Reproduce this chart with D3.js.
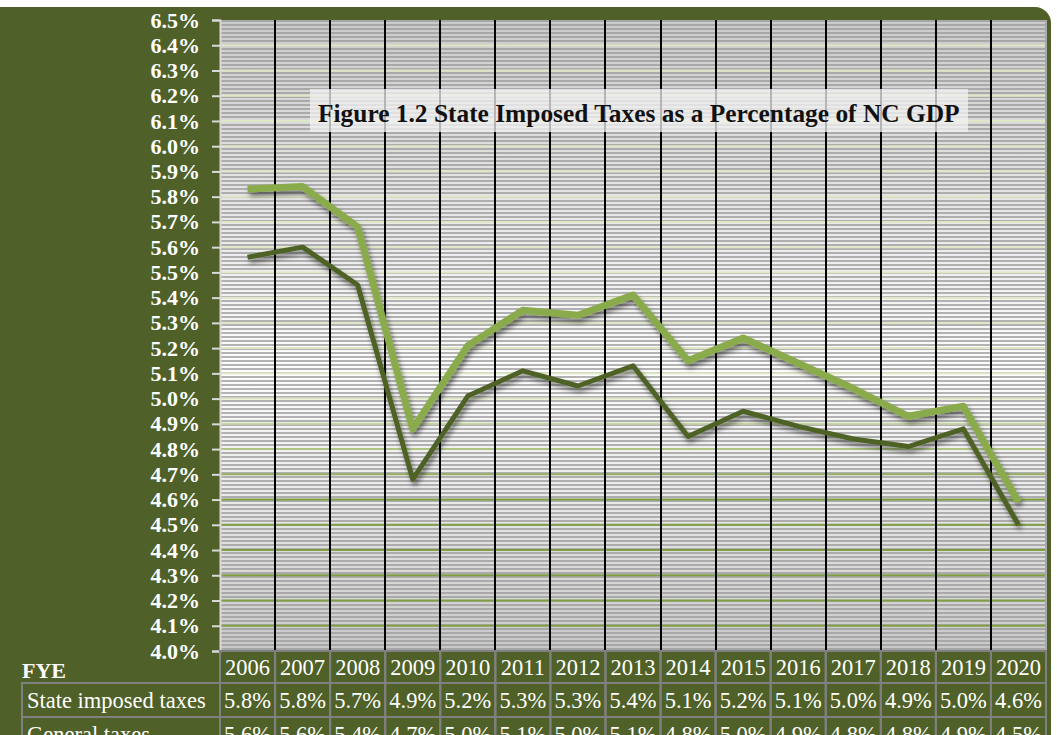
<!DOCTYPE html>
<html>
<head>
<meta charset="utf-8">
<script src="https://cdn.jsdelivr.net/npm/d3@7"></script>
<style>
    html, body {margin: 0; padding: 0; background: #fff;}
    svg {display: block; font-family: "Liberation Serif", "Times New Roman", serif;}
</style>
</head>
<body>
<div class="chart-content"></div>
<script>
let years = ['2006', '2007', '2008', '2009', '2010', '2011', '2012', '2013', '2014', '2015', '2016', '2017', '2018', '2019', '2020'];
// plotted values (percent of NC GDP)
let stateTaxes = [5.83, 5.84, 5.68, 4.88, 5.21, 5.35, 5.33, 5.41, 5.15, 5.24, 5.14, 5.04, 4.93, 4.97, 4.59];
let generalTaxes = [5.56, 5.60, 5.45, 4.68, 5.01, 5.11, 5.05, 5.13, 4.85, 4.95, 4.89, 4.84, 4.81, 4.88, 4.50];
// rounded values shown in the table
let stateLabels = ['5.8%', '5.8%', '5.7%', '4.9%', '5.2%', '5.3%', '5.3%', '5.4%', '5.1%', '5.2%', '5.1%', '5.0%', '4.9%', '5.0%', '4.6%'];
let generalLabels = ['5.6%', '5.6%', '5.4%', '4.7%', '5.0%', '5.1%', '5.0%', '5.1%', '4.8%', '5.0%', '4.9%', '4.8%', '4.8%', '4.9%', '4.5%'];
let yTicks = d3.range(40, 66).map(function(d) {return d / 10;});
let rowNames = ['State imposed taxes', 'General taxes'];
let title = 'Figure 1.2 State Imposed Taxes as a Percentage of NC GDP';

let w = 1057;
let h = 735;
let pLeft = 220, pRight = 1046, pTop = 20, pBottom = 651;
let panel = '#4f6128';

let svg = d3.select('.chart-content')
    .append('svg')
    .attr('width', w)
    .attr('height', h);

let defs = svg.append('defs');

// background gradient of the plot area
let grad = defs.append('linearGradient').attr('id', 'bg').attr('x1', 0).attr('y1', 0).attr('x2', 0).attr('y2', 1);
grad.append('stop').attr('offset', '0%').attr('stop-color', '#cbcbcb');
grad.append('stop').attr('offset', '25%').attr('stop-color', '#e2e2e2');
grad.append('stop').attr('offset', '55%').attr('stop-color', '#fdfdfd');
grad.append('stop').attr('offset', '75%').attr('stop-color', '#eaeaea');
grad.append('stop').attr('offset', '100%').attr('stop-color', '#c8c8c8');

// narrow horizontal stripes
let pat = defs.append('pattern')
    .attr('id', 'stripes')
    .attr('patternUnits', 'userSpaceOnUse')
    .attr('width', 8)
    .attr('height', 4);
pat.append('rect').attr('width', 8).attr('height', 2).attr('fill', '#9a9a9a').attr('opacity', 0.75);

let shadow = defs.append('filter').attr('id', 'shadow').attr('x', '-5%').attr('y', '-5%').attr('width', '110%').attr('height', '120%');
shadow.append('feDropShadow')
    .attr('dx', 2).attr('dy', 4).attr('stdDeviation', 2.5)
    .attr('flood-color', '#000').attr('flood-opacity', 0.5);

// green panel
svg.append('rect')
    .attr('x', -20).attr('y', 7)
    .attr('width', 1071).attr('height', 800)
    .attr('rx', 16)
    .attr('fill', panel);

let x = d3.scaleBand().domain(years).range([pLeft, pRight]).padding(0);
let y = d3.scaleLinear().domain([4.0, 6.5]).range([pBottom, pTop]);

// plot area
svg.append('rect').attr('x', pLeft).attr('y', pTop).attr('width', pRight - pLeft).attr('height', pBottom - pTop).attr('fill', 'url(#bg)');
svg.append('rect').attr('x', pLeft).attr('y', pTop).attr('width', pRight - pLeft).attr('height', pBottom - pTop).attr('fill', 'url(#stripes)');

let gridColor = d3.interpolateRgb('#7f9f40', '#dfe8c6');
svg.selectAll('.grid-h')
    .data(yTicks.filter(function(d) {return d > 4.0 && d < 6.5;}))
    .enter()
    .append('line')
    .attr('x1', pLeft).attr('x2', pRight)
    .attr('y1', function(d) {return y(d);})
    .attr('y2', function(d) {return y(d);})
    .attr('stroke', function(d) {return gridColor(Math.max(0, Math.min(1, (d - 4.6) / 0.4)));})
    .attr('stroke-width', 2);

// year separators
svg.selectAll('.grid-v')
    .data(years.slice(1))
    .enter()
    .append('line')
    .attr('x1', function(d) {return Math.round(x(d));})
    .attr('x2', function(d) {return Math.round(x(d));})
    .attr('y1', pTop).attr('y2', pBottom)
    .attr('stroke', '#000')
    .attr('stroke-width', 2);

svg.append('line').attr('x1', pRight).attr('x2', pRight).attr('y1', pTop).attr('y2', pBottom).attr('stroke', '#a8a8a8').attr('stroke-width', 2);

// y axis
let yAxis = d3.axisLeft(y).tickValues(yTicks).tickSize(8).tickPadding(12)
    .tickFormat(function(d) {return d.toFixed(1) + '%';});
let gy = svg.append('g').attr('transform', 'translate(' + pLeft + ',0)').call(yAxis);
gy.select('.domain').attr('stroke', '#d9d9d9').attr('stroke-width', 2);
gy.selectAll('.tick line').attr('stroke', '#d9d9d9').attr('stroke-width', 2);
gy.selectAll('.tick text')
    .attr('fill', '#fff')
    .attr('font-size', '22px')
    .attr('font-weight', 'bold')
    .attr('font-family', '"Liberation Serif", "Times New Roman", serif');

// title box
svg.append('rect').attr('x', 310).attr('y', 89).attr('width', 658).attr('height', 43).attr('fill', '#f2f2f2').attr('opacity', 0.75);
svg.append('text')
    .attr('x', 318).attr('y', 122)
    .attr('font-size', '25.4px')
    .attr('font-weight', 'bold')
    .attr('fill', '#111')
    .text(title);

// lines
let line = d3.line()
    .x(function(d, i) {return x(years[i]) + x.bandwidth() / 2;})
    .y(function(d) {return y(d);});

svg.append('path')
    .datum(generalTaxes)
    .attr('d', line)
    .attr('fill', 'none')
    .attr('stroke', '#4f6228')
    .attr('stroke-width', 5)
    .attr('stroke-linejoin', 'round')
    .attr('filter', 'url(#shadow)');

svg.append('path')
    .datum(stateTaxes)
    .attr('d', line)
    .attr('fill', 'none')
    .attr('stroke', '#8aab4b')
    .attr('stroke-width', 7)
    .attr('stroke-linejoin', 'round')
    .attr('filter', 'url(#shadow)');

// data table
let rowTop = [651, 683, 717];
let rowH = [32, 34, 34];
let border = '#808080';

svg.selectAll('.head-cell')
    .data(years)
    .enter()
    .append('rect')
    .attr('x', function(d) {return x(d);})
    .attr('y', rowTop[0])
    .attr('width', x.bandwidth())
    .attr('height', rowH[0])
    .attr('fill', 'none')
    .attr('stroke', border)
    .attr('stroke-width', 2);

svg.selectAll('.head-text')
    .data(years)
    .enter()
    .append('text')
    .attr('x', function(d) {return x(d) + x.bandwidth() / 2;})
    .attr('y', rowTop[0] + 24)
    .attr('text-anchor', 'middle')
    .attr('font-size', '22.5px')
    .attr('fill', '#fff')
    .text(function(d) {return d;});

svg.append('text')
    .attr('x', 22).attr('y', 678)
    .attr('font-size', '22px')
    .attr('font-weight', 'bold')
    .attr('fill', '#fff')
    .text('FYE');

let rows = [stateLabels, generalLabels];
rows.forEach(function(vals, r) {
    let ty = rowTop[r + 1];
    svg.append('rect')
        .attr('x', 22).attr('y', ty)
        .attr('width', pLeft - 22).attr('height', rowH[r + 1])
        .attr('fill', 'none').attr('stroke', border).attr('stroke-width', 2);
    svg.append('text')
        .attr('x', 27).attr('y', ty + 25)
        .attr('font-size', '22.5px')
        .attr('fill', '#fff')
        .text(rowNames[r]);
    svg.selectAll('.cell-' + r)
        .data(vals)
        .enter()
        .append('rect')
        .attr('x', function(d, i) {return x(years[i]);})
        .attr('y', ty)
        .attr('width', x.bandwidth())
        .attr('height', rowH[r + 1])
        .attr('fill', 'none')
        .attr('stroke', border)
        .attr('stroke-width', 2);
    svg.selectAll('.val-' + r)
        .data(vals)
        .enter()
        .append('text')
        .attr('x', function(d, i) {return x(years[i]) + x.bandwidth() / 2;})
        .attr('y', ty + 25)
        .attr('text-anchor', 'middle')
        .attr('font-size', '22.5px')
        .attr('fill', '#fff')
        .text(function(d) {return d;});
});
</script>
</body>
</html>
